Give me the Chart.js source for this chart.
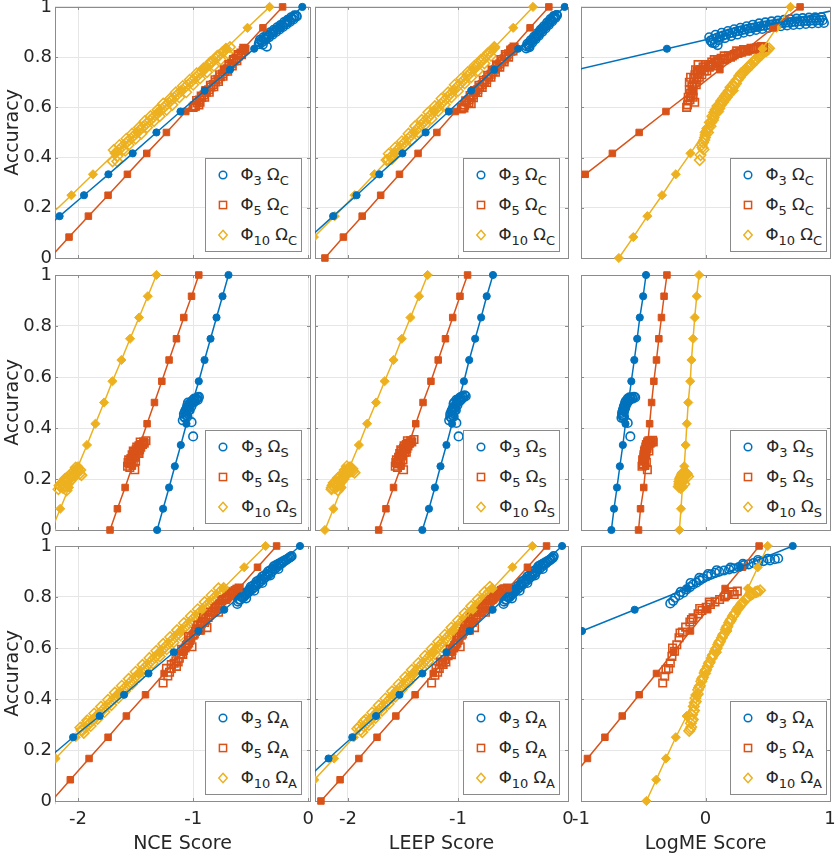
<!DOCTYPE html>
<html lang="en">
<head>
  <meta charset="UTF-8" />
  <title>Accuracy vs transferability score</title>
  <style>
    body {
      margin: 0;
      background: #fff;
    }

    #fig {
      position: relative;
      width: 837px;
      height: 857px;
      overflow: hidden;
      background: #fff;
      font-family: 'DejaVu Sans', sans-serif;
      color: #262626;
    }

    #fig canvas {
      position: absolute;
    }

    .legend {
      position: absolute;
      background: #fff;
      border: 1px solid #8a8a8a;
      padding: 1px 4px 1px 35px;
      font-size: 16.5px;
      z-index: 5;
    }

    .entry {
      position: relative;
      height: 30px;
      line-height: 30px;
      white-space: nowrap;
    }

    .entry svg {
      position: absolute;
      left: -25px;
      top: 8px;
    }

    .entry sub {
      font-size: 13px;
      vertical-align: -5px;
      line-height: 0;
    }
  </style>
</head>
<body>
  <div id="fig"></div>

  <script src="https://cdn.jsdelivr.net/npm/chart.js"></script>
  <script>
    // accuracy levels of the fitted-line markers (one per k/12)
    const accLevels = [0, 0.0833, 0.1667, 0.25, 0.3333, 0.4167, 0.5, 0.5833, 0.6667, 0.75, 0.8333, 0.9167, 1];
    const yTicks = [0, 0.2, 0.4, 0.6, 0.8, 1];
    const nceTicks = [-2, -1, 0];
    const leepTicks = [-2, -1, 0];
    const logmeTicks = [-1, 0, 1];
    const scoreNames = ['NCE Score', 'LEEP Score', 'LogME Score'];
    const phiLabels = ['3', '5', '10'];
    const omegaLabels = ['C', 'S', 'A'];

    // fitted lines: x value at each accuracy level (null = off the axes)
    const fitNceC3 = [null, -2.37, -2.16, -1.948, -1.736, -1.525, -1.319, -1.11, -0.90, -0.68, -0.47, -0.26, -0.052];
    const fitNceC5 = [-2.246, -2.078, -1.91, -1.739, -1.571, -1.403, -1.232, -1.064, -0.90, -0.73, -0.562, -0.394, -0.223];
    const fitNceC10 = [null, null, -2.249, -2.058, -1.87, -1.678, -1.487, -1.296, -1.10, -0.907, -0.716, -0.528, -0.336];
    const fitLeepC3 = [null, -2.345, -2.135, -1.922, -1.715, -1.505, -1.294, -1.084, -0.88, -0.67, -0.453, -0.243, -0.030];
    const fitLeepC5 = [-2.21, -2.042, -1.871, -1.703, -1.532, -1.363, -1.192, -1.024, -0.856, -0.685, -0.514, -0.345, -0.174];
    const fitLeepC10 = [null, -2.31, -2.12, -1.94, -1.76, -1.58, -1.40, -1.219, -1.039, -0.859, -0.679, -0.498, -0.318];
    const fitLogmeC3 = [null, null, null, null, null, null, null, null, null, -1.03, -0.31, 0.418, 1.146];
    const fitLogmeC5 = [null, null, null, -1.18, -0.966, -0.748, -0.533, -0.318, -0.10, 0.115, 0.333, 0.543, 0.759];
    const fitLogmeC10 = [-0.696, -0.58, -0.467, -0.349, -0.239, -0.121, -0.008, 0.11, 0.228, 0.339, 0.457, 0.57, 0.682];

    const fitNceS3 = [-1.313, -1.261, -1.209, -1.159, -1.107, -1.058, -1.006, -0.951, -0.901, -0.849, -0.797, -0.745, -0.693];
    const fitNceS5 = [-1.722, -1.658, -1.591, -1.528, -1.464, -1.40, -1.336, -1.272, -1.209, -1.145, -1.081, -1.014, -0.951];
    const fitNceS10 = [-2.23, -2.154, -2.078, -2.0, -1.922, -1.849, -1.774, -1.701, -1.623, -1.548, -1.47, -1.394, -1.319];
    const fitLeepS3 = [-1.324, -1.264, -1.21, -1.159, -1.105, -1.054, -1.0, -0.946, -0.898, -0.844, -0.79, -0.739, -0.682];
    const fitLeepS5 = [-1.721, -1.655, -1.586, -1.517, -1.45, -1.384, -1.318, -1.246, -1.18, -1.114, -1.048, -0.982, -0.913];
    const fitLeepS10 = [-2.21, -2.132, -2.057, -1.982, -1.901, -1.826, -1.745, -1.667, -1.586, -1.511, -1.432, -1.354, -1.276];
    const fitLogmeS3 = [-0.756, -0.735, -0.711, -0.688, -0.664, -0.643, -0.619, -0.596, -0.572, -0.549, -0.528, -0.501, -0.478];
    const fitLogmeS5 = [-0.538, -0.522, -0.496, -0.48, -0.465, -0.449, -0.433, -0.415, -0.394, -0.375, -0.354, -0.333, -0.31];
    const fitLogmeS10 = [-0.21, -0.197, -0.186, -0.171, -0.16, -0.15, -0.139, -0.123, -0.113, -0.10, -0.087, -0.071, -0.052];

    const fitNceA3 = [null, null, -2.26, -2.043, -1.812, -1.60, -1.388, -1.168, -0.954, -0.73, -0.513, -0.29, -0.072];
    const fitNceA5 = [-2.23, -2.067, -1.904, -1.739, -1.58, -1.414, -1.252, -1.087, -0.928, -0.768, -0.603, -0.441, -0.275];
    const fitNceA10 = [null, -2.386, -2.195, -2.02, -1.84, -1.658, -1.472, -1.29, -1.107, -0.922, -0.739, -0.557, -0.371];
    const fitLeepA3 = [null, -2.387, -2.177, -1.961, -1.745, -1.532, -1.324, -1.105, -0.895, -0.685, -0.474, -0.264, -0.054];
    const fitLeepA5 = [-2.246, -2.072, -1.901, -1.736, -1.565, -1.39, -1.225, -1.06, -0.889, -0.715, -0.544, -0.369, -0.195];
    const fitLeepA10 = [null, -2.306, -2.126, -1.946, -1.766, -1.586, -1.405, -1.225, -1.045, -0.865, -0.685, -0.505, -0.324];
    const fitLogmeA3 = [null, null, null, null, null, null, null, -1.415, -0.992, -0.569, -0.146, 0.277, 0.70];
    const fitLogmeA5 = [null, -1.085, -0.948, -0.808, -0.669, -0.533, -0.394, -0.257, -0.121, 0.018, 0.157, 0.297, 0.43];
    const fitLogmeA10 = [-0.475, -0.396, -0.318, -0.239, -0.152, -0.079, 0.005, 0.092, 0.176, 0.255, 0.339, 0.42, 0.499];

    // measured models: [score, accuracy]
    const ptsNceC3 = [[-0.43,0.852],[-0.42,0.869],[-0.40,0.86],[-0.39,0.879],[-0.37,0.87],[-0.36,0.889],[-0.34,0.88],[-0.33,0.899],[-0.31,0.89],[-0.30,0.909],[-0.28,0.90],[-0.27,0.919],[-0.25,0.91],[-0.24,0.928],[-0.22,0.92],[-0.21,0.939],[-0.19,0.93],[-0.18,0.948],[-0.16,0.94],[-0.15,0.958],[-0.13,0.95],[-0.12,0.966],[-0.10,0.962],[-0.36,0.842],[-0.395,0.85],
      [-0.425,0.86],[-0.405,0.866],[-0.385,0.873],[-0.365,0.879],[-0.345,0.886],[-0.325,0.893],[-0.305,0.899],[-0.285,0.906],[-0.265,0.912],[-0.245,0.919],[-0.225,0.926],[-0.205,0.932],[-0.185,0.939],[-0.165,0.945],[-0.145,0.952],[-0.125,0.959],[-0.105,0.965]];
    const ptsNceC5 = [[-1.00,0.60],[-0.98,0.605],[-0.95,0.61],[-0.97,0.627],[-0.94,0.62],[-0.93,0.645],[-0.90,0.64],[-0.89,0.667],[-0.86,0.66],[-0.85,0.688],[-0.82,0.682],[-0.81,0.71],[-0.78,0.703],[-0.77,0.73],[-0.74,0.724],[-0.73,0.75],[-0.70,0.744],[-0.69,0.77],[-0.66,0.765],[-0.65,0.79],[-0.62,0.786],[-0.61,0.81],[-0.58,0.81],[-0.56,0.835],[-0.55,0.83],
      [-0.99,0.605],[-0.965,0.618],[-0.945,0.629],[-0.925,0.639],[-0.905,0.649],[-0.885,0.66],[-0.865,0.67],[-0.845,0.681],[-0.825,0.691],[-0.805,0.701],[-0.785,0.712],[-0.765,0.722],[-0.745,0.733],[-0.725,0.743],[-0.705,0.753],[-0.685,0.764],[-0.665,0.774],[-0.645,0.785],[-0.625,0.795],[-0.605,0.805],[-0.585,0.816],[-0.565,0.826]];
    const ptsNceC10 = [[-1.70,0.385],[-1.69,0.43],[-1.66,0.405],[-1.64,0.45],[-1.61,0.43],[-1.58,0.475],[-1.56,0.45],[-1.53,0.495],[-1.50,0.475],[-1.47,0.52],[-1.45,0.495],[-1.42,0.545],[-1.40,0.52],[-1.37,0.565],[-1.34,0.545],[-1.31,0.59],[-1.29,0.565],[-1.26,0.615],[-1.23,0.59],[-1.20,0.635],[-1.18,0.61],[-1.15,0.66],[-1.12,0.64],[-1.09,0.685],[-1.06,0.66],[-1.03,0.71],[-1.00,0.69],[-0.97,0.735],[-0.94,0.715],[-0.91,0.755],[-0.88,0.74],[-0.85,0.78],[-0.82,0.765],[-0.79,0.805],[-0.76,0.79],[-0.73,0.825],[-0.70,0.815],[-0.68,0.84],[-1.59,0.427],[-1.66,0.385],
      [-1.675,0.418],[-1.645,0.431],[-1.615,0.444],[-1.585,0.457],[-1.555,0.47],[-1.525,0.483],[-1.495,0.496],[-1.465,0.509],[-1.435,0.522],[-1.405,0.535],[-1.375,0.548],[-1.345,0.561],[-1.315,0.574],[-1.285,0.587],[-1.255,0.6],[-1.225,0.613],[-1.195,0.626],[-1.165,0.639],[-1.135,0.652],[-1.105,0.665],[-1.075,0.678],[-1.045,0.69],[-1.015,0.703],[-0.985,0.716],[-0.955,0.729],[-0.925,0.742],[-0.895,0.755],[-0.865,0.768],[-0.835,0.781],[-0.805,0.794],[-0.775,0.807],[-0.745,0.82],[-0.715,0.833]];
    const ptsLeepC3 = [[-0.38,0.835],[-0.37,0.853],[-0.355,0.844],[-0.34,0.867],[-0.325,0.858],[-0.31,0.881],[-0.295,0.872],[-0.28,0.895],[-0.265,0.886],[-0.25,0.909],[-0.235,0.9],[-0.22,0.923],[-0.205,0.914],[-0.19,0.937],[-0.175,0.928],[-0.16,0.951],[-0.145,0.942],[-0.13,0.963],[-0.115,0.956],[-0.10,0.967],[-0.35,0.84],
      [-0.375,0.843],[-0.36,0.85],[-0.345,0.857],[-0.33,0.864],[-0.315,0.871],[-0.30,0.878],[-0.285,0.885],[-0.27,0.892],[-0.255,0.899],[-0.24,0.906],[-0.225,0.913],[-0.21,0.92],[-0.195,0.926],[-0.18,0.933],[-0.165,0.94],[-0.15,0.947],[-0.135,0.954],[-0.12,0.961],[-0.105,0.967]];
    const ptsLeepC5 = [[-0.97,0.594],[-0.95,0.600],[-0.93,0.626],[-0.90,0.618],[-0.89,0.647],[-0.86,0.638],[-0.85,0.667],[-0.82,0.659],[-0.81,0.688],[-0.78,0.679],[-0.77,0.708],[-0.74,0.699],[-0.73,0.728],[-0.70,0.72],[-0.69,0.749],[-0.66,0.74],[-0.65,0.769],[-0.62,0.760],[-0.61,0.79],[-0.58,0.781],[-0.57,0.81],[-0.54,0.80],[-0.52,0.828],[-0.50,0.825],[-0.49,0.84],[-0.946,0.598],[-0.88,0.614],
      [-0.96,0.599],[-0.94,0.609],[-0.92,0.62],[-0.90,0.63],[-0.88,0.64],[-0.86,0.65],[-0.84,0.66],[-0.82,0.671],[-0.80,0.681],[-0.78,0.691],[-0.76,0.701],[-0.74,0.711],[-0.72,0.722],[-0.70,0.732],[-0.68,0.742],[-0.66,0.752],[-0.64,0.762],[-0.62,0.773],[-0.60,0.783],[-0.58,0.793],[-0.56,0.803],[-0.54,0.813],[-0.52,0.824],[-0.50,0.834]];
    const ptsLeepC10 = [[-1.65,0.39],[-1.63,0.415],[-1.60,0.395],[-1.57,0.44],[-1.54,0.42],[-1.51,0.465],[-1.48,0.445],[-1.45,0.495],[-1.42,0.47],[-1.39,0.525],[-1.36,0.50],[-1.33,0.55],[-1.30,0.53],[-1.27,0.58],[-1.24,0.555],[-1.21,0.605],[-1.18,0.585],[-1.15,0.635],[-1.12,0.61],[-1.09,0.66],[-1.06,0.64],[-1.03,0.69],[-1.00,0.665],[-0.97,0.715],[-0.94,0.695],[-0.91,0.74],[-0.88,0.72],[-0.85,0.765],[-0.82,0.745],[-0.79,0.79],[-0.76,0.775],[-0.73,0.815],[-0.70,0.805],[-0.67,0.84],
      [-1.635,0.392],[-1.605,0.405],[-1.575,0.419],[-1.545,0.433],[-1.515,0.447],[-1.485,0.461],[-1.455,0.475],[-1.425,0.489],[-1.395,0.502],[-1.365,0.516],[-1.335,0.53],[-1.305,0.544],[-1.275,0.558],[-1.245,0.572],[-1.215,0.586],[-1.185,0.599],[-1.155,0.613],[-1.125,0.627],[-1.095,0.641],[-1.065,0.655],[-1.035,0.669],[-1.005,0.683],[-0.975,0.696],[-0.945,0.71],[-0.915,0.724],[-0.885,0.738],[-0.855,0.752],[-0.825,0.766],[-0.795,0.78],[-0.765,0.793],[-0.735,0.807],[-0.705,0.821],[-0.675,0.835]];
    const ptsLogmeC3 = [[0.03,0.879],[0.08,0.889],[0.13,0.897],[0.18,0.904],[0.23,0.911],[0.28,0.917],[0.33,0.923],[0.38,0.929],[0.43,0.934],[0.48,0.938],[0.53,0.942],[0.58,0.945],[0.63,0.948],[0.68,0.951],[0.73,0.953],[0.78,0.955],[0.83,0.957],[0.88,0.958],[0.93,0.959],[0.055,0.857],[0.105,0.868],[0.155,0.876],[0.205,0.884],[0.255,0.89],[0.305,0.897],[0.355,0.902],[0.405,0.908],[0.455,0.912],[0.505,0.916],[0.555,0.92],[0.605,0.923],[0.655,0.926],[0.705,0.928],[0.755,0.93],[0.805,0.932],[0.855,0.934],[0.905,0.935],[0.95,0.936],[0.045,0.865],[0.097,0.848],[0.075,0.856],
      [0.04,0.866],[0.09,0.877],[0.14,0.886],[0.19,0.894],[0.24,0.901],[0.29,0.907],[0.34,0.913],[0.39,0.918],[0.44,0.923],[0.49,0.927],[0.54,0.931],[0.59,0.934],[0.64,0.937],[0.69,0.939],[0.74,0.942],[0.79,0.944],[0.84,0.945],[0.89,0.946],[0.94,0.947],
      [0.065,0.872],[0.115,0.882],[0.165,0.89],[0.215,0.897],[0.265,0.904],[0.315,0.91],[0.365,0.916],[0.415,0.921],[0.465,0.925],[0.515,0.929],[0.565,0.932],[0.615,0.935],[0.665,0.938],[0.715,0.941],[0.765,0.943],[0.815,0.944],[0.865,0.946],[0.915,0.947]];
    const ptsLogmeC5 = [[-0.152,0.60],[-0.087,0.62],[-0.14,0.625],[-0.139,0.64],[-0.12,0.655],[-0.13,0.67],[-0.10,0.665],[-0.11,0.685],[-0.12,0.72],[-0.09,0.70],[-0.075,0.69],[-0.07,0.71],[-0.08,0.75],[-0.05,0.72],[-0.06,0.735],[-0.03,0.73],[-0.01,0.745],[0.0,0.77],[0.01,0.745],[0.03,0.76],[0.06,0.765],[0.08,0.775],[0.11,0.78],[0.14,0.79],[0.17,0.795],[0.20,0.80],[0.23,0.81],[0.26,0.815],[0.29,0.82],[0.32,0.825],[0.35,0.83],[0.38,0.832],[0.41,0.836],[0.44,0.838],[0.465,0.839],[0.05,0.78],[0.15,0.805],[0.25,0.825],[-0.02,0.76],
      [-0.145,0.61],[-0.125,0.63],[-0.115,0.645],[-0.105,0.68],[-0.095,0.715],[-0.085,0.73],[-0.065,0.745],[-0.045,0.75],[-0.035,0.75],[-0.015,0.76],[0.02,0.765],[0.045,0.77],[0.07,0.79],[0.095,0.785],[0.125,0.795],[0.155,0.79],[0.185,0.805],[0.215,0.805],[0.245,0.815],[0.275,0.82],[0.305,0.83],[0.335,0.825],[0.365,0.835],[0.395,0.835],[0.425,0.84],[0.45,0.842],[-0.1,0.64],[-0.13,0.7],[-0.06,0.77]];
    const ptsLogmeC10 = [[-0.047,0.39],[-0.016,0.432],[-0.03,0.45],[-0.01,0.47],[0.0,0.49],[0.02,0.50],[0.015,0.515],[0.04,0.525],[0.035,0.54],[0.06,0.55],[0.055,0.565],[0.08,0.575],[0.08,0.59],[0.11,0.595],[0.11,0.61],[0.14,0.62],[0.14,0.635],[0.17,0.64],[0.17,0.655],[0.20,0.665],[0.20,0.68],[0.23,0.685],[0.235,0.70],[0.26,0.71],[0.27,0.725],[0.29,0.73],[0.31,0.745],[0.33,0.75],[0.35,0.765],[0.37,0.77],[0.39,0.785],[0.41,0.79],[0.43,0.805],[0.45,0.81],[0.47,0.82],[0.49,0.825],[0.51,0.835],
      [-0.04,0.41],[-0.025,0.44],[-0.02,0.46],[-0.005,0.48],[0.01,0.505],[0.025,0.52],[0.045,0.54],[0.065,0.56],[0.07,0.58],[0.095,0.59],[0.095,0.605],[0.125,0.61],[0.125,0.625],[0.155,0.63],[0.155,0.645],[0.185,0.65],[0.185,0.665],[0.215,0.675],[0.22,0.69],[0.245,0.695],[0.25,0.71],[0.275,0.72],[0.285,0.735],[0.30,0.74],[0.32,0.75],[0.34,0.76],[0.36,0.77],[0.38,0.78],[0.40,0.79],[0.42,0.80],[0.44,0.81],[0.46,0.815],[0.48,0.825],[0.50,0.83]];

    const ptsNceS3 = [[-1.09,0.43],[-1.07,0.44],[-1.08,0.455],[-1.06,0.46],[-1.05,0.475],[-1.065,0.47],[-1.04,0.485],[-1.03,0.49],[-1.045,0.50],[-1.02,0.495],[-1.01,0.505],[-1.0,0.51],[-0.99,0.515],[-0.97,0.515],[-0.96,0.52],[-0.95,0.522],[-1.03,0.47],[-1.05,0.445],[-1.014,0.423],[-1.0,0.367],
      [-1.08,0.445],[-1.06,0.45],[-1.055,0.48],[-1.04,0.47],[-1.025,0.50],[-1.015,0.485],[-0.995,0.50],[-0.985,0.505],[-0.975,0.51],[-0.96,0.51],[-1.07,0.465],[-1.05,0.49],[-1.035,0.48]];
    const ptsNceS5 = [[-1.57,0.25],[-1.55,0.26],[-1.56,0.275],[-1.54,0.28],[-1.52,0.27],[-1.53,0.295],[-1.51,0.29],[-1.50,0.305],[-1.52,0.31],[-1.48,0.31],[-1.49,0.325],[-1.47,0.33],[-1.45,0.335],[-1.46,0.345],[-1.43,0.345],[-1.41,0.35],[-1.55,0.245],[-1.507,0.236],[-1.50,0.27],[-1.47,0.30],
      [-1.565,0.265],[-1.545,0.27],[-1.535,0.26],[-1.525,0.285],[-1.515,0.305],[-1.505,0.285],[-1.495,0.315],[-1.485,0.30],[-1.475,0.32],[-1.465,0.315],[-1.455,0.325],[-1.44,0.335],[-1.425,0.34]];
    const ptsNceS10 = [[-2.17,0.16],[-2.154,0.17],[-2.13,0.165],[-2.11,0.17],[-2.14,0.185],[-2.12,0.19],[-2.09,0.18],[-2.07,0.19],[-2.10,0.205],[-2.08,0.21],[-2.05,0.20],[-2.06,0.22],[-2.03,0.215],[-2.04,0.23],[-2.01,0.225],[-2.0,0.24],[-1.98,0.235],[-1.97,0.215],[-2.02,0.245],[-2.10,0.155],
      [-2.16,0.175],[-2.145,0.18],[-2.125,0.175],[-2.115,0.2],[-2.095,0.195],[-2.085,0.195],[-2.065,0.205],[-2.055,0.21],[-2.04,0.215],[-2.025,0.225],[-2.015,0.235],[-1.995,0.23],[-1.985,0.22]];
    const ptsLeepS3 = [[-1.08,0.43],[-1.06,0.44],[-1.07,0.455],[-1.05,0.46],[-1.04,0.475],[-1.055,0.47],[-1.03,0.485],[-1.02,0.49],[-1.035,0.50],[-1.01,0.50],[-1.0,0.51],[-0.99,0.515],[-0.98,0.52],[-0.96,0.525],[-0.94,0.528],[-0.93,0.525],[-1.02,0.47],[-1.04,0.445],[-1.015,0.42],[-0.994,0.367],
      [-1.07,0.445],[-1.05,0.45],[-1.045,0.48],[-1.03,0.47],[-1.015,0.51],[-1.005,0.49],[-0.985,0.505],[-0.975,0.51],[-0.965,0.515],[-0.95,0.52],[-1.06,0.465],[-1.04,0.495],[-1.025,0.48]];
    const ptsLeepS5 = [[-1.57,0.25],[-1.55,0.26],[-1.56,0.275],[-1.54,0.285],[-1.52,0.27],[-1.53,0.30],[-1.51,0.295],[-1.50,0.31],[-1.52,0.315],[-1.48,0.315],[-1.49,0.33],[-1.47,0.335],[-1.45,0.34],[-1.46,0.35],[-1.43,0.35],[-1.40,0.355],[-1.55,0.245],[-1.495,0.236],[-1.50,0.275],[-1.47,0.305],
      [-1.565,0.265],[-1.545,0.27],[-1.535,0.26],[-1.525,0.29],[-1.515,0.31],[-1.505,0.29],[-1.495,0.32],[-1.485,0.305],[-1.475,0.325],[-1.465,0.32],[-1.455,0.33],[-1.44,0.34],[-1.42,0.345]];
    const ptsLeepS10 = [[-2.15,0.16],[-2.147,0.166],[-2.12,0.165],[-2.10,0.17],[-2.13,0.185],[-2.11,0.19],[-2.08,0.18],[-2.06,0.19],[-2.09,0.205],[-2.07,0.21],[-2.04,0.20],[-2.05,0.22],[-2.02,0.215],[-2.03,0.235],[-2.0,0.23],[-1.98,0.245],[-1.96,0.24],[-1.94,0.225],[-2.01,0.25],[-2.09,0.155],
      [-2.14,0.175],[-2.125,0.18],[-2.105,0.175],[-2.095,0.2],[-2.075,0.195],[-2.065,0.2],[-2.045,0.205],[-2.035,0.21],[-2.02,0.225],[-2.005,0.24],[-1.99,0.235],[-1.975,0.23],[-1.955,0.23]];
    const ptsLogmeS3 = [[-0.675,0.44],[-0.665,0.45],[-0.67,0.46],[-0.655,0.465],[-0.66,0.475],[-0.645,0.48],[-0.65,0.49],[-0.635,0.495],[-0.64,0.505],[-0.62,0.505],[-0.625,0.515],[-0.605,0.515],[-0.61,0.52],[-0.59,0.52],[-0.575,0.522],[-0.565,0.52],[-0.655,0.445],[-0.625,0.42],[-0.604,0.367],
      [-0.67,0.45],[-0.66,0.455],[-0.663,0.47],[-0.65,0.475],[-0.655,0.485],[-0.64,0.49],[-0.645,0.5],[-0.63,0.5],[-0.615,0.51],[-0.6,0.515],[-0.585,0.515],[-0.66,0.44]];
    const ptsLogmeS5 = [[-0.51,0.25],[-0.50,0.26],[-0.505,0.275],[-0.49,0.28],[-0.495,0.295],[-0.48,0.30],[-0.485,0.315],[-0.47,0.32],[-0.475,0.335],[-0.46,0.34],[-0.45,0.345],[-0.44,0.35],[-0.425,0.352],[-0.42,0.345],[-0.467,0.236],[-0.475,0.265],[-0.455,0.31],
      [-0.505,0.255],[-0.498,0.27],[-0.495,0.285],[-0.488,0.29],[-0.49,0.31],[-0.478,0.31],[-0.48,0.325],[-0.468,0.33],[-0.465,0.345],[-0.455,0.35],[-0.445,0.34],[-0.435,0.345]];
    const ptsLogmeS10 = [[-0.215,0.17],[-0.205,0.175],[-0.21,0.19],[-0.195,0.19],[-0.2,0.205],[-0.185,0.2],[-0.19,0.215],[-0.175,0.215],[-0.18,0.225],[-0.16,0.225],[-0.15,0.22],[-0.14,0.21],[-0.2,0.165],[-0.17,0.18],
      [-0.21,0.18],[-0.2,0.185],[-0.205,0.2],[-0.19,0.2],[-0.195,0.21],[-0.18,0.21],[-0.185,0.22],[-0.17,0.22],[-0.165,0.21],[-0.155,0.215],[-0.19,0.17],[-0.18,0.19]];

    const ptsNceA3 = [[-0.617,0.773],[-0.60,0.79],[-0.58,0.80],[-0.56,0.80],[-0.55,0.815],[-0.53,0.82],[-0.51,0.83],[-0.50,0.84],[-0.48,0.845],[-0.46,0.85],[-0.45,0.86],[-0.43,0.865],[-0.41,0.87],[-0.40,0.88],[-0.38,0.885],[-0.36,0.89],[-0.35,0.90],[-0.33,0.905],[-0.31,0.91],[-0.30,0.92],[-0.28,0.925],[-0.26,0.93],[-0.24,0.935],[-0.22,0.94],[-0.20,0.945],[-0.18,0.95],[-0.16,0.955],[-0.145,0.96],[-0.54,0.795],[-0.47,0.825],[-0.40,0.855],[-0.33,0.885],[-0.26,0.91],
      [-0.61,0.782],[-0.59,0.79],[-0.57,0.798],[-0.55,0.806],[-0.53,0.814],[-0.51,0.822],[-0.49,0.83],[-0.47,0.838],[-0.45,0.846],[-0.43,0.854],[-0.41,0.862],[-0.39,0.87],[-0.37,0.878],[-0.35,0.886],[-0.33,0.894],[-0.31,0.902],[-0.29,0.91],[-0.27,0.918],[-0.25,0.926],[-0.23,0.932],[-0.21,0.94],[-0.19,0.946],[-0.17,0.952],[-0.155,0.957]];
    const ptsNceA5 = [[-1.261,0.463],[-1.22,0.49],[-1.232,0.52],[-1.19,0.52],[-1.19,0.535],[-1.145,0.528],[-1.15,0.55],[-1.12,0.56],[-1.09,0.575],[-1.10,0.595],[-1.07,0.60],[-1.05,0.615],[-1.03,0.63],[-1.04,0.645],[-1.00,0.65],[-0.98,0.665],[-0.95,0.67],[-0.96,0.69],[-0.93,0.695],[-0.90,0.70],[-0.91,0.72],[-0.87,0.72],[-0.85,0.74],[-0.82,0.745],[-0.80,0.76],[-0.77,0.77],[-0.75,0.785],[-0.72,0.79],[-0.70,0.80],[-0.67,0.81],[-0.65,0.82],[-0.62,0.83],[-0.60,0.835],[-1.01,0.605],[-0.88,0.68],[-0.78,0.74],
      [-1.205,0.505],[-1.165,0.54],[-1.13,0.545],[-1.105,0.575],[-1.085,0.59],[-1.06,0.61],[-1.04,0.62],[-1.02,0.64],[-0.99,0.655],[-0.97,0.675],[-0.94,0.685],[-0.92,0.705],[-0.89,0.715],[-0.86,0.73],[-0.835,0.74],[-0.81,0.755],[-0.785,0.765],[-0.76,0.775],[-0.735,0.79],[-0.71,0.795],[-0.685,0.805],[-0.66,0.815],[-0.635,0.825],[-0.61,0.83]];
    const ptsNceA10 = [[-1.98,0.288],[-1.92,0.316],[-1.86,0.343],[-1.80,0.37],[-1.74,0.397],[-1.68,0.425],[-1.62,0.452],[-1.56,0.479],[-1.50,0.507],[-1.44,0.534],[-1.38,0.561],[-1.32,0.589],[-1.26,0.616],[-1.20,0.643],[-1.14,0.67],[-1.08,0.698],[-1.02,0.725],[-0.96,0.752],[-0.90,0.78],[-0.84,0.807],[-0.78,0.834],[-1.95,0.267],[-1.89,0.294],[-1.83,0.322],[-1.77,0.349],[-1.71,0.376],[-1.65,0.404],[-1.59,0.431],[-1.53,0.458],[-1.47,0.486],[-1.41,0.513],[-1.35,0.54],[-1.29,0.567],[-1.23,0.595],[-1.17,0.622],[-1.11,0.649],[-1.05,0.677],[-0.99,0.704],[-0.93,0.731],[-0.87,0.759],[-0.81,0.786],[-0.75,0.813],[-1.97,0.279],[-1.928,0.305],
      [-1.965,0.275],[-1.935,0.289],[-1.905,0.302],[-1.875,0.316],[-1.845,0.33],[-1.815,0.343],[-1.785,0.357],[-1.755,0.371],[-1.725,0.384],[-1.695,0.398],[-1.665,0.412],[-1.635,0.425],[-1.605,0.439],[-1.575,0.452],[-1.545,0.466],[-1.515,0.48],[-1.485,0.493],[-1.455,0.507],[-1.425,0.521],[-1.395,0.534],[-1.365,0.548],[-1.335,0.562],[-1.305,0.575],[-1.275,0.589],[-1.245,0.603],[-1.215,0.616],[-1.185,0.63],[-1.155,0.644],[-1.125,0.657],[-1.095,0.671],[-1.065,0.684],[-1.035,0.698],[-1.005,0.712],[-0.975,0.725],[-0.945,0.739],[-0.915,0.753],[-0.885,0.766],[-0.855,0.78],[-0.825,0.794],[-0.795,0.807],[-0.765,0.821],[-0.735,0.835]];
    const ptsLeepA3 = [[-0.586,0.773],[-0.57,0.79],[-0.55,0.80],[-0.53,0.80],[-0.52,0.815],[-0.50,0.82],[-0.48,0.83],[-0.47,0.84],[-0.45,0.845],[-0.43,0.85],[-0.42,0.86],[-0.40,0.865],[-0.38,0.87],[-0.37,0.88],[-0.35,0.885],[-0.33,0.89],[-0.32,0.90],[-0.30,0.905],[-0.28,0.91],[-0.27,0.92],[-0.25,0.925],[-0.23,0.93],[-0.21,0.935],[-0.19,0.94],[-0.17,0.945],[-0.155,0.95],[-0.14,0.955],[-0.13,0.96],[-0.51,0.795],[-0.44,0.825],[-0.37,0.855],[-0.30,0.885],[-0.23,0.91],
      [-0.58,0.782],[-0.56,0.79],[-0.54,0.798],[-0.52,0.806],[-0.50,0.814],[-0.48,0.822],[-0.46,0.83],[-0.44,0.838],[-0.42,0.846],[-0.40,0.854],[-0.38,0.862],[-0.36,0.87],[-0.34,0.878],[-0.32,0.886],[-0.30,0.894],[-0.28,0.902],[-0.26,0.91],[-0.24,0.918],[-0.22,0.926],[-0.20,0.932],[-0.18,0.94],[-0.16,0.946],[-0.14,0.952]];
    const ptsLeepA5 = [[-1.24,0.463],[-1.21,0.493],[-1.20,0.52],[-1.17,0.52],[-1.135,0.535],[-1.16,0.545],[-1.12,0.555],[-1.09,0.57],[-1.06,0.574],[-1.07,0.595],[-1.04,0.60],[-1.02,0.615],[-1.00,0.63],[-1.01,0.645],[-0.97,0.65],[-0.95,0.665],[-0.92,0.67],[-0.93,0.69],[-0.90,0.695],[-0.87,0.70],[-0.88,0.72],[-0.84,0.72],[-0.82,0.74],[-0.79,0.745],[-0.77,0.76],[-0.74,0.77],[-0.72,0.785],[-0.69,0.79],[-0.67,0.80],[-0.64,0.81],[-0.62,0.82],[-0.59,0.83],[-0.55,0.835],[-0.98,0.605],[-0.85,0.68],[-0.75,0.74],
      [-1.185,0.505],[-1.145,0.54],[-1.11,0.545],[-1.08,0.575],[-1.055,0.59],[-1.03,0.61],[-1.01,0.62],[-0.99,0.64],[-0.96,0.655],[-0.94,0.675],[-0.91,0.685],[-0.89,0.705],[-0.86,0.715],[-0.83,0.73],[-0.805,0.74],[-0.78,0.755],[-0.755,0.765],[-0.73,0.775],[-0.705,0.79],[-0.68,0.795],[-0.655,0.805],[-0.63,0.815],[-0.605,0.825],[-0.575,0.832]];
    const ptsLeepA10 = [[-1.90,0.291],[-1.84,0.319],[-1.78,0.347],[-1.72,0.375],[-1.66,0.402],[-1.60,0.43],[-1.54,0.458],[-1.48,0.486],[-1.42,0.514],[-1.36,0.541],[-1.30,0.569],[-1.24,0.597],[-1.18,0.625],[-1.12,0.652],[-1.06,0.68],[-1.00,0.708],[-0.94,0.736],[-0.88,0.764],[-0.82,0.791],[-0.76,0.819],[-0.71,0.84],[-1.87,0.27],[-1.81,0.298],[-1.75,0.326],[-1.69,0.354],[-1.63,0.381],[-1.57,0.409],[-1.51,0.437],[-1.45,0.465],[-1.39,0.4925],[-1.33,0.52],[-1.27,0.548],[-1.21,0.576],[-1.15,0.604],[-1.09,0.631],[-1.03,0.659],[-0.97,0.687],[-0.91,0.715],[-0.85,0.7425],[-0.79,0.77],[-0.73,0.798],[-0.68,0.82],[-1.916,0.283],[-1.856,0.312],
      [-1.885,0.278],[-1.855,0.292],[-1.825,0.306],[-1.795,0.32],[-1.765,0.334],[-1.735,0.348],[-1.705,0.362],[-1.675,0.375],[-1.645,0.389],[-1.615,0.403],[-1.585,0.417],[-1.555,0.431],[-1.525,0.445],[-1.495,0.459],[-1.465,0.473],[-1.435,0.487],[-1.405,0.5],[-1.375,0.514],[-1.345,0.528],[-1.315,0.542],[-1.285,0.556],[-1.255,0.57],[-1.225,0.584],[-1.195,0.598],[-1.165,0.612],[-1.135,0.625],[-1.105,0.639],[-1.075,0.653],[-1.045,0.667],[-1.015,0.681],[-0.985,0.695],[-0.955,0.709],[-0.925,0.723],[-0.895,0.737],[-0.865,0.75],[-0.835,0.764],[-0.805,0.778],[-0.775,0.792],[-0.745,0.806],[-0.715,0.82],[-0.69,0.831]];
    const ptsLogmeA3 = [[-0.283,0.775],[-0.244,0.797],[-0.213,0.807],[-0.178,0.817],[-0.152,0.83],[-0.126,0.839],[-0.10,0.849],[-0.073,0.856],[-0.047,0.865],[-0.021,0.873],[0.013,0.882],[0.045,0.889],[0.076,0.895],[0.11,0.899],[0.15,0.904],[0.189,0.908],[0.228,0.912],[0.268,0.917],[0.307,0.925],[0.346,0.928],[0.386,0.933],[0.425,0.938],[0.465,0.941],[0.517,0.944],[0.556,0.948],[0.583,0.951],[-0.20,0.82],[-0.12,0.855],[-0.05,0.875],[0.02,0.89],[0.09,0.905],[0.20,0.915],[0.30,0.93],[0.42,0.945],[0.50,0.95],[-0.26,0.785]];
    const ptsLogmeA5 = [[-0.344,0.463],[-0.328,0.489],[-0.297,0.519],[-0.283,0.541],[-0.27,0.567],[-0.249,0.587],[-0.231,0.613],[-0.213,0.64],[-0.186,0.663],[-0.16,0.682],[-0.126,0.702],[-0.10,0.718],[-0.06,0.734],[-0.029,0.747],[0.005,0.76],[0.039,0.771],[0.076,0.781],[0.113,0.79],[0.15,0.80],[0.181,0.81],[0.215,0.82],[0.255,0.823],[-0.318,0.515],[-0.265,0.60],[-0.205,0.659],[-0.113,0.712],[-0.047,0.755],[0.03,0.78],[0.16,0.805],[0.23,0.81]];
    const ptsLogmeA10 = [[-0.131,0.275],[-0.118,0.305],[-0.108,0.338],[-0.094,0.371],[-0.081,0.404],[-0.06,0.436],[-0.034,0.469],[-0.008,0.502],[0.018,0.528],[0.05,0.561],[0.076,0.587],[0.102,0.613],[0.131,0.64],[0.163,0.672],[0.189,0.699],[0.22,0.725],[0.255,0.751],[0.286,0.771],[0.32,0.79],[0.36,0.807],[0.399,0.819],[0.438,0.826],[-0.115,0.29],[-0.102,0.32],[-0.092,0.355],[-0.078,0.39],[-0.062,0.42],[-0.045,0.452],[-0.02,0.485],[0.005,0.515],[0.034,0.545],[0.062,0.574],[0.09,0.60],[0.117,0.627],[0.148,0.656],[0.176,0.686],[0.205,0.712],[0.238,0.738],[0.27,0.761],[0.303,0.78],[0.34,0.799],[0.38,0.813],[0.42,0.822],
      [-0.122,0.282],[-0.11,0.315],[-0.1,0.35],[-0.087,0.385],[-0.072,0.415],[-0.052,0.445],[-0.028,0.478],[-0.002,0.51],[0.027,0.54],[0.058,0.57],[0.084,0.596],[0.11,0.622],[0.14,0.65],[0.17,0.68],[0.198,0.706],[0.23,0.732],[0.263,0.757],[0.295,0.776],[0.33,0.795],[0.37,0.81],[0.41,0.82]];

    const panels = [
      { row: 0, col: 0, fits: [fitNceC3, fitNceC5, fitNceC10], pts: [ptsNceC3, ptsNceC5, ptsNceC10] },
      { row: 0, col: 1, fits: [fitLeepC3, fitLeepC5, fitLeepC10], pts: [ptsLeepC3, ptsLeepC5, ptsLeepC10] },
      { row: 0, col: 2, fits: [fitLogmeC3, fitLogmeC5, fitLogmeC10], pts: [ptsLogmeC3, ptsLogmeC5, ptsLogmeC10] },
      { row: 1, col: 0, fits: [fitNceS3, fitNceS5, fitNceS10], pts: [ptsNceS3, ptsNceS5, ptsNceS10] },
      { row: 1, col: 1, fits: [fitLeepS3, fitLeepS5, fitLeepS10], pts: [ptsLeepS3, ptsLeepS5, ptsLeepS10] },
      { row: 1, col: 2, fits: [fitLogmeS3, fitLogmeS5, fitLogmeS10], pts: [ptsLogmeS3, ptsLogmeS5, ptsLogmeS10] },
      { row: 2, col: 0, fits: [fitNceA3, fitNceA5, fitNceA10], pts: [ptsNceA3, ptsNceA5, ptsNceA10] },
      { row: 2, col: 1, fits: [fitLeepA3, fitLeepA5, fitLeepA10], pts: [ptsLeepA3, ptsLeepA5, ptsLeepA10] },
      { row: 2, col: 2, fits: [fitLogmeA3, fitLogmeA5, fitLogmeA10], pts: [ptsLogmeA3, ptsLogmeA5, ptsLogmeA10] }
    ];

    const COLORS = ['#0072BD', '#D95319', '#EDB120'];
    const STYLES = ['circle', 'rect', 'rectRot'];
    const FIT_RADIUS = [3.6, 4.6, 4.6];
    const PT_RADIUS = [4.3, 5.3, 5.2];

    const colEdges = [[55, 310], [315, 568], [581, 835]];
    const rowEdges = [[6, 258], [275, 530], [546, 801]];
    const xRanges = [[-2.2, 0.015], [-2.3, 0], [-1, 1]];
    const xTickSets = [nceTicks, leepTicks, logmeTicks];
    const AXIS_GREY = '#8c8c8c';
    const TEXT = '#262626';

    Chart.defaults.font.family = "'DejaVu Sans', sans-serif";

    // MATLAB-like box with inward tick marks, drawn under the data
    const boxPlugin = {
      id: 'box',
      beforeDatasetsDraw(chart) {
        const { ctx, chartArea: a, scales } = chart;
        ctx.save();
        ctx.strokeStyle = AXIS_GREY;
        ctx.lineWidth = 1;
        ctx.beginPath();
        scales.x.ticks.forEach(t => {
          const px = Math.round(scales.x.getPixelForValue(t.value)) + 0.5;
          ctx.moveTo(px, a.bottom); ctx.lineTo(px, a.bottom - 3);
          ctx.moveTo(px, a.top); ctx.lineTo(px, a.top + 3);
        });
        scales.y.ticks.forEach(t => {
          const py = Math.round(scales.y.getPixelForValue(t.value)) + 0.5;
          ctx.moveTo(a.left, py); ctx.lineTo(a.left + 3, py);
          ctx.moveTo(a.right, py); ctx.lineTo(a.right - 3, py);
        });
        ctx.stroke();
        ctx.strokeRect(Math.round(a.left) + 0.5, Math.round(a.top) + 0.5,
          Math.round(a.right - a.left), Math.round(a.bottom - a.top));
        ctx.restore();
      }
    };

    function markerSvg(i) {
      const c = COLORS[i];
      let shape;
      if (i === 0) shape = `<circle cx="7" cy="7" r="3.8" fill="none" stroke="${c}" stroke-width="1.5"/>`;
      else if (i === 1) shape = `<rect x="3.4" y="3.4" width="7.2" height="7.2" fill="none" stroke="${c}" stroke-width="1.5"/>`;
      else shape = `<polygon points="7,2.3 11.2,7 7,11.7 2.8,7" fill="none" stroke="${c}" stroke-width="1.5"/>`;
      return `<svg width="14" height="14" viewBox="0 0 14 14">${shape}</svg>`;
    }

    const fig = document.getElementById('fig');

    panels.forEach(p => {
      const [L, R] = colEdges[p.col];
      const [T, B] = rowEdges[p.row];
      const padL = p.col === 0 ? 55 : 12;
      const padR = p.col === 2 ? 2 : 12;
      const padT = p.row === 0 ? 6 : 8;
      const padB = p.row === 2 ? 857 - B : 8;
      const w = (R + padR) - (L - padL);
      const h = (B + padB) - (T - padT);

      const canvas = document.createElement('canvas');
      canvas.width = w;
      canvas.height = h;
      canvas.style.left = (L - padL) + 'px';
      canvas.style.top = (T - padT) + 'px';
      canvas.style.width = w + 'px';
      canvas.style.height = h + 'px';
      fig.appendChild(canvas);

      const datasets = [];
      p.pts.forEach((pts, i) => datasets.push({
        data: pts.map(([x, y]) => ({ x, y })),
        showLine: false,
        order: 2,
        pointStyle: STYLES[i],
        pointRadius: PT_RADIUS[i],
        pointBorderWidth: 1.6,
        pointBorderColor: COLORS[i],
        pointBackgroundColor: 'rgba(255,255,255,0)',
        clip: 10
      }));
      p.fits.forEach((xs, i) => datasets.push({
        data: xs.map((x, k) => x === null ? null : { x, y: accLevels[k] }).filter(Boolean),
        showLine: true,
        order: 1,
        borderColor: COLORS[i],
        borderWidth: 1.5,
        pointStyle: STYLES[i],
        pointRadius: FIT_RADIUS[i],
        pointBorderWidth: 1,
        pointBorderColor: COLORS[i],
        pointBackgroundColor: COLORS[i],
        clip: { left: 0, right: 0, top: 10, bottom: 10 }
      }));

      new Chart(canvas, {
        type: 'scatter',
        data: { datasets },
        options: {
          responsive: false,
          animation: false,
          events: [],
          layout: { padding: { left: 0, right: padR, top: padT, bottom: 0 } },
          plugins: { legend: { display: false }, tooltip: { enabled: false } },
          scales: {
            x: {
              type: 'linear',
              min: xRanges[p.col][0],
              max: xRanges[p.col][1],
              afterBuildTicks: s => { s.ticks = xTickSets[p.col].map(v => ({ value: v })); },
              afterFit: s => { s.height = padB; s.paddingLeft = 0; s.paddingRight = 0; },
              grid: { color: '#e6e6e6', drawTicks: false },
              border: { display: false },
              ticks: { display: p.row === 2, padding: 8, color: TEXT, font: { size: 18 }, maxRotation: 0, autoSkip: false, callback: v => String(v) },
              title: { display: p.row === 2, text: scoreNames[p.col], color: TEXT, font: { size: 19 }, padding: { top: 0, bottom: 2 } }
            },
            y: {
              type: 'linear',
              min: 0,
              max: 1,
              afterBuildTicks: s => { s.ticks = yTicks.map(v => ({ value: v })); },
              afterFit: s => { s.width = padL; s.paddingTop = 0; s.paddingBottom = 0; },
              grid: { color: '#e6e6e6', drawTicks: false },
              border: { display: false },
              ticks: { display: p.col === 0, padding: 3, color: TEXT, font: { size: 18 }, autoSkip: false, callback: v => String(v) },
              title: { display: p.col === 0, text: 'Accuracy', color: TEXT, font: { size: 19 }, padding: { top: 2, bottom: 0 } }
            }
          }
        },
        plugins: [boxPlugin]
      });

      const lg = document.createElement('div');
      lg.className = 'legend';
      lg.style.right = (837 - (R - 8)) + 'px';
      lg.style.bottom = (857 - (B - 6)) + 'px';
      phiLabels.forEach((phi, i) => {
        const entry = document.createElement('div');
        entry.className = 'entry';
        entry.innerHTML = markerSvg(i) + `Φ<sub>${phi}</sub> Ω<sub>${omegaLabels[p.row]}</sub>`;
        lg.appendChild(entry);
      });
      fig.appendChild(lg);
    });
  </script>
</body>
</html>
